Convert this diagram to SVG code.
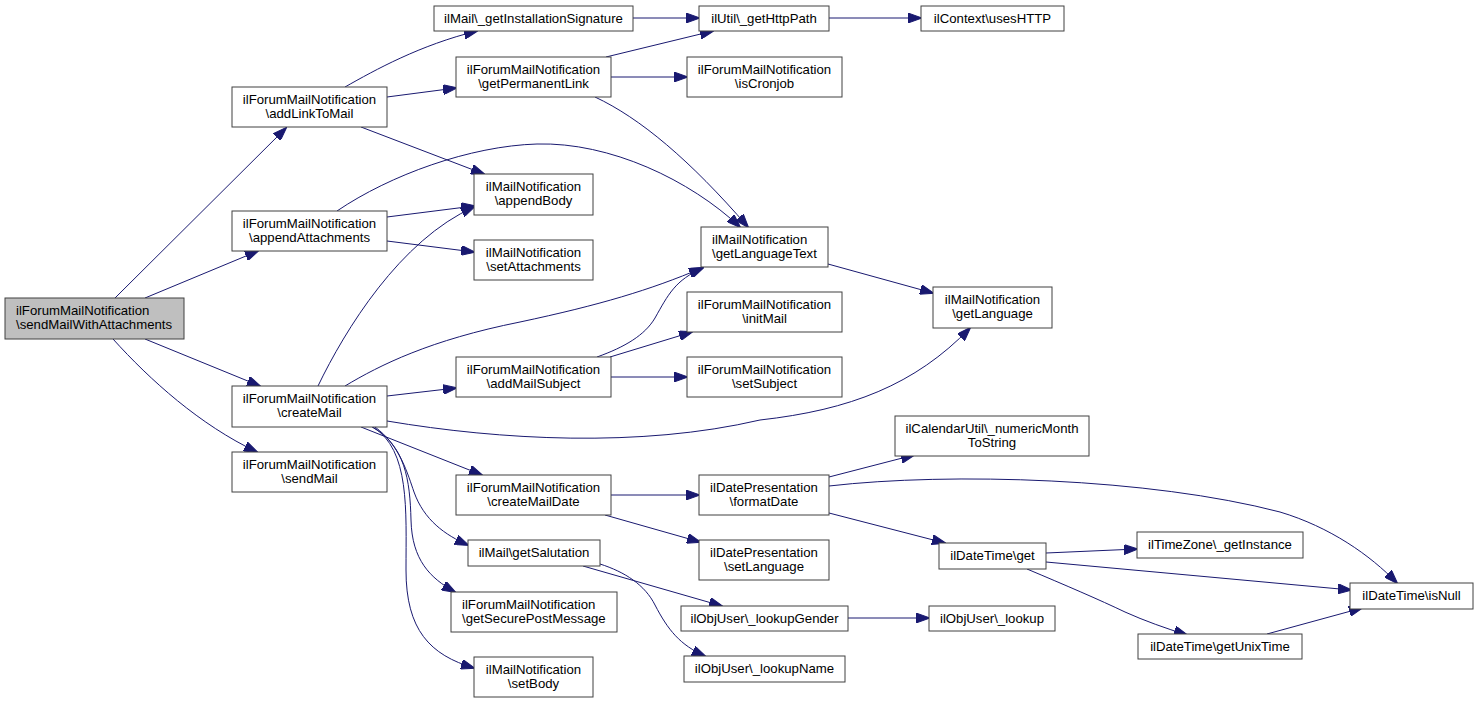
<svg xmlns="http://www.w3.org/2000/svg" width="1479" height="703" viewBox="0 0 1479 703">
<defs>
<style>
.n rect{fill:#ffffff;stroke:#404040;stroke-width:1}
.n.root rect{fill:#bfbfbf}
.n text{font-family:"Liberation Sans",Arial,Helvetica,sans-serif;font-size:13.2px;fill:#000000;text-anchor:middle}
.n text.l{text-anchor:start}
.e path{fill:none;stroke:#191970;stroke-width:1}
</style>
<marker id="ah" markerWidth="14" markerHeight="10" refX="13" refY="5" orient="auto" markerUnits="userSpaceOnUse">
<path d="M0,0 L14,5 L0,10 z" fill="#191970" stroke="#191970" stroke-width="1"/>
</marker>
</defs>
<rect x="0" y="0" width="1479" height="703" fill="#ffffff"/>
<g id="connectors" class="e" marker-end="url(#ah)">
<path d="M115,298 L286,128" marker-end="url(#ah)"/>
<path d="M145,298 L258,251" marker-end="url(#ah)"/>
<path d="M145,339 L260,386" marker-end="url(#ah)"/>
<path d="M113,339 C150,380 200,425 257,452" marker-end="url(#ah)"/>
<path d="M345,87 C375,70 420,45 477,31" marker-end="url(#ah)"/>
<path d="M387,97 L456,88" marker-end="url(#ah)"/>
<path d="M361,127 L484,174" marker-end="url(#ah)"/>
<path d="M337,211 C390,175 470,146 537,144 C610,142 690,180 740,227" marker-end="url(#ah)"/>
<path d="M595,97 C640,118 690,160 748,227" marker-end="url(#ah)"/>
<path d="M387,217 L474,206" marker-end="url(#ah)"/>
<path d="M387,241 L474,252" marker-end="url(#ah)"/>
<path d="M318,386 C345,330 400,240 474,207" marker-end="url(#ah)"/>
<path d="M345,386 C380,365 430,340 520,322 C600,305 650,290 702,268" marker-end="url(#ah)"/>
<path d="M387,396 L456,388" marker-end="url(#ah)"/>
<path d="M387,421 C500,440 640,448 760,420 C850,410 915,385 970,328" marker-end="url(#ah)"/>
<path d="M361,427 L482,475" marker-end="url(#ah)"/>
<path d="M375,427 C400,445 408,475 414,492 C424,520 445,535 468,545" marker-end="url(#ah)"/>
<path d="M372,427 C405,445 410,480 411,520 C412,560 430,578 455,592" marker-end="url(#ah)"/>
<path d="M373,427 C410,450 406,510 406,570 C406,630 430,655 474,668" marker-end="url(#ah)"/>
<path d="M633,18 L699,18" marker-end="url(#ah)"/>
<path d="M829,18 L921,18" marker-end="url(#ah)"/>
<path d="M606,57 L713,31" marker-end="url(#ah)"/>
<path d="M611,77 L687,77" marker-end="url(#ah)"/>
<path d="M828,264 L933,293" marker-end="url(#ah)"/>
<path d="M597,357 C625,347 645,335 655,318 C668,295 675,280 703,268" marker-end="url(#ah)"/>
<path d="M610,357 L692,332" marker-end="url(#ah)"/>
<path d="M611,377 L687,377" marker-end="url(#ah)"/>
<path d="M611,495 L699,495" marker-end="url(#ah)"/>
<path d="M605,515 L700,542" marker-end="url(#ah)"/>
<path d="M829,477 L914,455" marker-end="url(#ah)"/>
<path d="M829,486 C950,472 1150,478 1280,512 C1330,527 1370,555 1397,583" marker-end="url(#ah)"/>
<path d="M829,513 L945,543" marker-end="url(#ah)"/>
<path d="M583,566 L722,606" marker-end="url(#ah)"/>
<path d="M600,564 C625,572 645,585 655,605 C668,630 680,645 705,656" marker-end="url(#ah)"/>
<path d="M848,618 L929,618" marker-end="url(#ah)"/>
<path d="M1046,553 L1137,549" marker-end="url(#ah)"/>
<path d="M1046,562 L1351,590" marker-end="url(#ah)"/>
<path d="M1027,569 C1065,585 1100,600 1125,612 C1145,621 1165,628 1187,635" marker-end="url(#ah)"/>
<path d="M1267,634 L1362,608" marker-end="url(#ah)"/>
</g>
<g id="n_sendMailWithAttachments" class="n root"><rect x="5" y="298" width="179" height="41"/><text class="l" x="16" y="315">ilForumMailNotification</text><text class="l" x="16" y="329.2">\sendMailWithAttachments</text></g>
<g id="n_addLinkToMail" class="n"><rect x="232" y="87" width="155" height="40"/><text x="309.5" y="103.5">ilForumMailNotification</text><text x="309.5" y="117.7">\addLinkToMail</text></g>
<g id="n_appendAttachments" class="n"><rect x="232" y="211" width="155" height="40"/><text x="309.5" y="227.5">ilForumMailNotification</text><text x="309.5" y="241.7">\appendAttachments</text></g>
<g id="n_createMail" class="n"><rect x="232" y="386" width="155" height="41"/><text x="309.5" y="403">ilForumMailNotification</text><text x="309.5" y="417.2">\createMail</text></g>
<g id="n_sendMail" class="n"><rect x="232" y="452" width="155" height="40"/><text x="309.5" y="468.5">ilForumMailNotification</text><text x="309.5" y="482.7">\sendMail</text></g>
<g id="n_getInstallationSignature" class="n"><rect x="434" y="6" width="199" height="25"/><text x="533.5" y="22.5">ilMail\_getInstallationSignature</text></g>
<g id="n_getPermanentLink" class="n"><rect x="456" y="57" width="155" height="40"/><text x="533.5" y="73.5">ilForumMailNotification</text><text x="533.5" y="87.7">\getPermanentLink</text></g>
<g id="n_appendBody" class="n"><rect x="474" y="174" width="119" height="41"/><text x="533.5" y="191">ilMailNotification</text><text x="533.5" y="205.2">\appendBody</text></g>
<g id="n_setAttachments" class="n"><rect x="474" y="240" width="119" height="40"/><text x="533.5" y="256.5">ilMailNotification</text><text x="533.5" y="270.7">\setAttachments</text></g>
<g id="n_addMailSubject" class="n"><rect x="456" y="357" width="155" height="40"/><text x="533.5" y="373.5">ilForumMailNotification</text><text x="533.5" y="387.7">\addMailSubject</text></g>
<g id="n_createMailDate" class="n"><rect x="456" y="475" width="155" height="40"/><text x="533.5" y="491.5">ilForumMailNotification</text><text x="533.5" y="505.7">\createMailDate</text></g>
<g id="n_getSalutation" class="n"><rect x="468" y="540" width="132" height="26"/><text x="534" y="557">ilMail\getSalutation</text></g>
<g id="n_getSecurePostMessage" class="n"><rect x="451" y="592" width="166" height="40"/><text class="l" x="462" y="608.5">ilForumMailNotification</text><text class="l" x="462" y="622.7">\getSecurePostMessage</text></g>
<g id="n_setBody" class="n"><rect x="474" y="657" width="119" height="40"/><text x="533.5" y="673.5">ilMailNotification</text><text x="533.5" y="687.7">\setBody</text></g>
<g id="n_getHttpPath" class="n"><rect x="699" y="6" width="130" height="25"/><text x="764" y="22.5">ilUtil\_getHttpPath</text></g>
<g id="n_isCronjob" class="n"><rect x="687" y="57" width="155" height="40"/><text x="764.5" y="73.5">ilForumMailNotification</text><text x="764.5" y="87.7">\isCronjob</text></g>
<g id="n_getLanguageText" class="n"><rect x="701" y="227" width="127" height="40"/><text class="l" x="712" y="243.5">ilMailNotification</text><text class="l" x="712" y="257.7">\getLanguageText</text></g>
<g id="n_initMail" class="n"><rect x="687" y="292" width="155" height="40"/><text x="764.5" y="308.5">ilForumMailNotification</text><text x="764.5" y="322.7">\initMail</text></g>
<g id="n_setSubject" class="n"><rect x="687" y="357" width="155" height="40"/><text x="764.5" y="373.5">ilForumMailNotification</text><text x="764.5" y="387.7">\setSubject</text></g>
<g id="n_formatDate" class="n"><rect x="699" y="475" width="130" height="40"/><text x="764" y="491.5">ilDatePresentation</text><text x="764" y="505.7">\formatDate</text></g>
<g id="n_setLanguage" class="n"><rect x="699" y="540" width="130" height="40"/><text x="764" y="556.5">ilDatePresentation</text><text x="764" y="570.7">\setLanguage</text></g>
<g id="n_lookupGender" class="n"><rect x="681" y="606" width="167" height="25"/><text x="764.5" y="622.5">ilObjUser\_lookupGender</text></g>
<g id="n_lookupName" class="n"><rect x="684" y="656" width="161" height="26"/><text x="764.5" y="673">ilObjUser\_lookupName</text></g>
<g id="n_usesHTTP" class="n"><rect x="921" y="6" width="143" height="25"/><text x="992.5" y="22.5">ilContext\usesHTTP</text></g>
<g id="n_getLanguage" class="n"><rect x="933" y="287" width="119" height="41"/><text x="992.5" y="304">ilMailNotification</text><text x="992.5" y="318.2">\getLanguage</text></g>
<g id="n_numericMonthToString" class="n"><rect x="895" y="416" width="194" height="40"/><text x="992" y="432.5">ilCalendarUtil\_numericMonth</text><text x="992" y="446.7">ToString</text></g>
<g id="n_get" class="n"><rect x="939" y="543" width="107" height="26"/><text x="992.5" y="560">ilDateTime\get</text></g>
<g id="n_lookup" class="n"><rect x="929" y="606" width="126" height="25"/><text x="992" y="622.5">ilObjUser\_lookup</text></g>
<g id="n_getInstance" class="n"><rect x="1137" y="532" width="166" height="26"/><text x="1220" y="549">ilTimeZone\_getInstance</text></g>
<g id="n_getUnixTime" class="n"><rect x="1138" y="634" width="164" height="25"/><text x="1220" y="650.5">ilDateTime\getUnixTime</text></g>
<g id="n_isNull" class="n"><rect x="1350" y="583" width="123" height="26"/><text x="1411.5" y="600">ilDateTime\isNull</text></g>
</svg>
